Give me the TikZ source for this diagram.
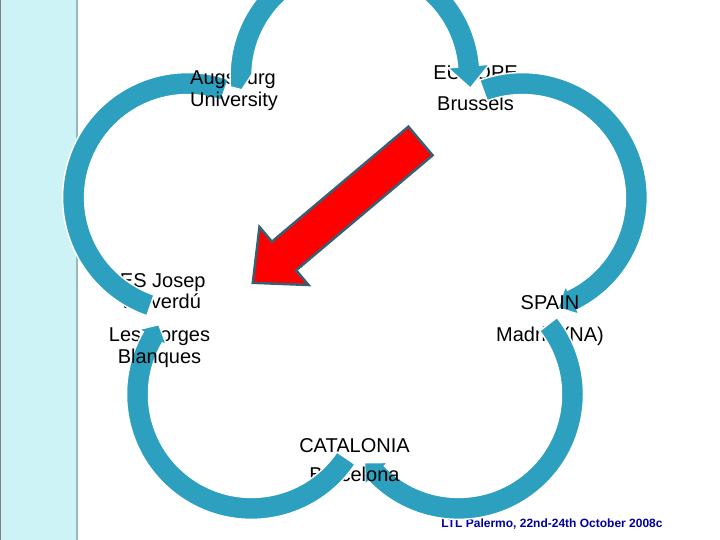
\documentclass[tikz,border=0pt]{standalone}
\usepackage{fontspec}
\setmainfont{Liberation Sans}
\usetikzlibrary{calc}
\definecolor{arcteal}{RGB}{44,160,190}
\definecolor{panelcyan}{RGB}{206,243,247}
\definecolor{paneledge}{RGB}{150,185,188}
\definecolor{arrowred}{RGB}{255,0,0}
\definecolor{arrowedge}{RGB}{55,96,115}
\definecolor{footblue}{RGB}{0,0,160}
\tikzset{
  arcband/.style={fill=arcteal, draw=white, line width=1.5pt, line join=miter},
  lbl/.style={anchor=base, inner sep=0pt, font=\fontsize{20}{24}\selectfont},
  redarrow/.style={fill=arrowred, draw=arrowedge, line width=2.5pt, line join=miter},
}
% #1 centre, #2 tail angle, #3 arrowhead base angle, #4 tip angle, #5 barb size
\newcommand\petal[5]{%
  \begin{scope}[shift={(#1)}]
    \path[arcband] (#2:125) arc[start angle=#2, end angle=#3, radius=125]
      -- (#3:125+#5) -- (#4:116) -- (#3:103-#5) -- (#3:103)
      arc[start angle=#3, end angle=#2, radius=103] -- cycle;
  \end{scope}}
% band with blunt end: #1 centre, #2 tail angle, #3 end angle
\newcommand\bluntpetal[3]{%
  \begin{scope}[shift={(#1)}]
    \path[arcband] (#2:125) arc[start angle=#2, end angle=#3, radius=125]
      -- (#3:103) arc[start angle=#3, end angle=#2, radius=103] -- cycle;
  \end{scope}}
\begin{document}
\begin{tikzpicture}[x=1pt,y=1pt]
\useasboundingbox (0,0) rectangle (720,540);
\fill[white] (0,0) rectangle (720,540);
% side panel
\fill[panelcyan] (0,0) rectangle (78,540);
\draw[paneledge, line width=2pt] (77,0) -- (77,540);
\draw[gray, line width=1pt] (0.5,0) -- (0.5,540);

% petal centres
\coordinate (O) at (355,288);
\coordinate (cT) at (355,464);
\coordinate (cR) at (522.4,342.4);
\coordinate (cBR) at (458.5,145.6);
\coordinate (cBL) at (251.5,145.6);
\coordinate (cL) at (187.6,342.4);

% footer
\node[anchor=base, inner sep=0pt, font=\bfseries\fontsize{12}{14}\selectfont, text=footblue] (foot) at (552,12) {LTL Palermo, 22nd-24th October 2008c};

% labels lying under the arcs
\node[lbl] (eu1) at (475.5,460) {EUROPE};
\node[lbl] (eu2) at (475.5,429) {Brussels};
\node[lbl] (sp2) at (550,198) {Madrid (NA)};
\node[lbl] (ca1) at (354.5,87) {CATALONIA};
\node[lbl] (ie1) at (160,252) {IES Josep};
\node[lbl] (ie2) at (160,231) {Vallverdú};
\node[lbl] (ie3) at (159.5,198) {Les Borges};

% left petal (Les Borges -> Augsburg)
\bluntpetal{cL}{251}{71}
\node[lbl] (au1) at (233,455) {Augsburg};
\node[lbl] (au2) at (234,433) {University};
% top petal, with a pointed tail
\begin{scope}[shift={(cT)}]
  \path[arcband] (185:125) arc[start angle=185, end angle=5, radius=125]
    -- (5:135) -- (-6:116) -- (5:93) -- (5:103)
    arc[start angle=5, end angle=179, radius=103] -- (187:114) -- cycle;
\end{scope}
\petal{cR}{110}{-64}{-72}{5}
\node[lbl] (sp1) at (550,230) {SPAIN};
\petal{cBR}{38}{-136}{-144}{5}
\node[lbl] (ca2) at (354.5,58) {Barcelona};
\petal{cBL}{-34}{-210}{-217}{5}
\node[lbl] (ie4) at (159.5,176) {Blanques};

% red block arrow
\path[redarrow] (408.4,413.3) -- (432.6,384.7) -- (296.1,269.7) -- (308.5,255)
  -- (252.8,257.2) -- (259.5,313) -- (271.9,298.3) -- cycle;
\end{tikzpicture}
\end{document}
